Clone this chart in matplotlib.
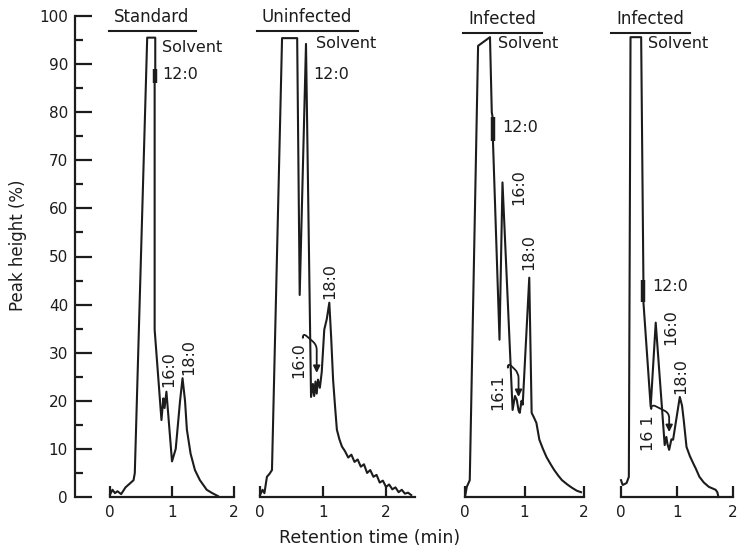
import matplotlib
matplotlib.use("Agg")
import matplotlib.pyplot as plt
from matplotlib.ticker import MultipleLocator
from matplotlib.lines import Line2D

# DATA  (retention time in min, peak height in %)
std_t = [0.0, 0.04, 0.08, 0.12, 0.18, 0.25, 0.32, 0.38, 0.40, 0.60, 0.73, 0.73, 0.72, 0.72,
         0.83, 0.86, 0.88, 0.91, 1.0, 1.06, 1.13, 1.17, 1.21, 1.24, 1.30, 1.37, 1.45, 1.56,
         1.65, 1.74]
std_h = [0.5, 1.5, 0.8, 1.2, 0.6, 2.0, 2.8, 3.5, 5.0, 95.5, 95.5, 88.0, 86.0, 34.8,
         16.0, 20.5, 18.5, 21.9, 7.4, 10.0, 20.0, 24.7, 20.0, 14.0, 9.0, 5.6, 3.5, 1.5,
         0.8, 0.2]

uninf_t = [0.0, 0.04, 0.07, 0.11, 0.15, 0.19, 0.35, 0.59, 0.63, 0.73, 0.81, 0.84, 0.86, 0.88,
           0.90, 0.92, 0.95, 0.98, 1.02, 1.06, 1.10, 1.13, 1.16, 1.19, 1.22, 1.26, 1.30,
           1.35, 1.40, 1.45, 1.50, 1.55, 1.60, 1.65, 1.70, 1.75, 1.80, 1.85, 1.90, 1.95, 2.00,
           2.05, 2.10, 2.15, 2.20, 2.25, 2.30, 2.35, 2.40]
uninf_h = [0.4, 1.5, 0.8, 4.2, 4.8, 5.6, 95.4, 95.4, 42.0, 94.2, 20.8, 23.5, 21.0, 24.0,
           21.5, 24.4, 22.7, 26.0, 34.8, 37.0, 40.4, 33.0, 24.4, 19.0, 14.0, 12.0, 10.5,
           9.5, 8.2, 8.8, 7.3, 7.8, 6.3, 6.8, 5.0, 5.6, 4.2, 4.6, 3.0, 3.4, 2.1,
           2.6, 1.6, 2.0, 1.0, 1.5, 0.7, 0.9, 0.4]

inf1_t = [0.0, 0.03, 0.08, 0.22, 0.42, 0.45, 0.47, 0.47, 0.58, 0.63, 0.80, 0.84, 0.87, 0.90,
          0.92, 0.95, 0.97, 1.08, 1.12, 1.16, 1.20, 1.25, 1.31, 1.37, 1.44, 1.50, 1.57,
          1.63, 1.72, 1.80, 1.88, 1.95]
inf1_h = [0.0, 2.1, 3.5, 93.8, 95.6, 80.0, 78.5, 74.0, 32.7, 65.4, 18.1, 21.0, 20.2, 18.0,
          17.5, 20.0, 19.2, 45.6, 17.5, 16.5, 15.4, 11.9, 10.0, 8.3, 6.8, 5.6, 4.4,
          3.5, 2.6, 1.9, 1.3, 1.0]

inf2_t = [0.0, 0.03, 0.10, 0.14, 0.17, 0.36, 0.40, 0.40, 0.53, 0.62, 0.78, 0.81, 0.83, 0.86,
          0.90, 0.93, 1.05, 1.09, 1.12, 1.17, 1.23, 1.29, 1.34, 1.40, 1.48, 1.57, 1.63,
          1.69, 1.72, 1.74]
inf2_h = [3.5, 2.5, 2.9, 4.2, 95.6, 95.6, 45.2, 40.6, 18.75, 36.25, 10.8, 12.5, 11.0, 9.8,
          12.0, 11.9, 20.8, 19.0, 16.0, 10.4, 8.5, 7.0, 5.8, 4.2, 3.0, 2.1, 1.8,
          1.5, 1.0, 0.0]

# 12:0 marks (thick bits on the solvent tail)
blip_t = [0.73, None, 0.47, 0.40]
blip_lo = [86.0, None, 74.0, 40.6]
blip_hi = [89.0, None, 79.0, 45.2]

titles = ["Standard", "Uninfected", "Infected", "Infected"]
y_ticks = list(range(0, 101, 10))
x_ticks = [0, 1, 2]

INK = "#1c1c1c"
W, H = 740, 554
Y0, Y100 = 497, 16  # pixel rows of 0 % and 100 %

fig = plt.figure(figsize=(W / 100, H / 100), dpi=100)
fig.patch.set_facecolor("white")

bot = (H - Y0) / H
hgt = (Y0 - Y100) / H


def px_axes(left, right):
    return fig.add_axes([left / W, bot, (right - left) / W, hgt])


# shared y axis
ay = fig.add_axes([75 / W, bot, 0.5 / W, hgt])
ay.set_ylim(0, 100)
ay.set_xticks([])
for s in ["top", "right", "bottom"]:
    ay.spines[s].set_visible(False)
ay.spines["left"].set_linewidth(1.6)
ay.spines["left"].set_color(INK)
ay.set_yticks(y_ticks)
ay.yaxis.set_minor_locator(MultipleLocator(5))
ay.tick_params(axis="y", which="major", direction="in", length=12, width=1.6,
               labelsize=11, pad=5, colors=INK)
ay.tick_params(axis="y", which="minor", direction="in", length=5.5, width=1.6, colors=INK)
ay.patch.set_visible(False)

# panel layout (pixel extents, x-limit) and label placements
panels = [
    dict(px=(110, 234), xmax=2.0, t=std_t, h=std_h, title_y=99.8,
         labels=[("Solvent", 0.84, 93.5, 0), ("12:0", 0.84, 87.9, 0),
                 ("16:0", 0.95, 26.7, 90), ("18:0", 1.27, 29.2, 90)],
         arrow=None),
    dict(px=(260, 415), xmax=2.46, t=uninf_t, h=uninf_h, title_y=99.8,
         labels=[("Solvent", 0.89, 94.2, 0), ("12:0", 0.84, 87.9, 0),
                 ("18:0", 1.11, 45.0, 90), ("16:0", 0.62, 28.5, 90)],
         arrow=((0.68, 33.3), (0.90, 25.8), 28)),
    dict(px=(465, 584), xmax=2.0, t=inf1_t, h=inf1_h, title_y=99.4,
         labels=[("Solvent", 0.55, 94.2, 0), ("12:0", 0.62, 76.9, 0),
                 ("16:0", 0.90, 64.4, 90), ("18:0", 1.07, 51.0, 90),
                 ("16:1", 0.55, 21.9, 90)],
         arrow=((0.72, 27.1), (0.90, 20.8), 24)),
    dict(px=(621, 733), xmax=2.0, t=inf2_t, h=inf2_h, title_y=99.4,
         labels=[("Solvent", 0.49, 94.2, 0), ("12:0", 0.55, 43.75, 0),
                 ("16:0", 0.89, 35.4, 90), ("18:0", 1.07, 25.2, 90),
                 ("16 1", 0.49, 13.3, 90)],
         arrow=((0.54, 18.5), (0.86, 13.5), 19)),
]

title_texts = []
for i, p in enumerate(panels):
    ax = px_axes(*p["px"])
    ax.set_xlim(0, p["xmax"])
    ax.set_ylim(0, 100)
    ax.patch.set_visible(False)
    for s in ["top", "right", "left"]:
        ax.spines[s].set_visible(False)
    ax.spines["bottom"].set_bounds(0, p["xmax"] if i == 1 else 2)
    ax.spines["bottom"].set_linewidth(1.6)
    ax.spines["bottom"].set_color(INK)
    ax.set_yticks([])
    ax.set_xticks(x_ticks)
    ax.tick_params(axis="x", direction="in", length=8, width=1.6, labelsize=11,
                   pad=6, colors=INK)

    ax.plot(p["t"], p["h"], color=INK, lw=1.5, clip_on=False)
    if blip_t[i] is not None:
        ax.plot([blip_t[i], blip_t[i]], [blip_lo[i], blip_hi[i]], color=INK,
                lw=3.2, clip_on=False, solid_capstyle="butt")

    for txt, x, y, rot in p["labels"]:
        if rot == 0:
            ax.text(x, y, txt, ha="left", va="center", fontsize=11.5, color=INK)
        else:
            ax.text(x, y, txt, ha="center", va="center", rotation=90,
                    fontsize=11.5, color=INK)

    if p["arrow"] is not None:
        (xa, ya), (xb, yb), arm = p["arrow"]
        ax.annotate("", xy=(xb, yb), xytext=(xa, ya),
                    arrowprops=dict(arrowstyle="-|>", color=INK, lw=1.3,
                                    mutation_scale=10, shrinkA=0, shrinkB=0,
                                    connectionstyle="arc,angleA=90,angleB=90,"
                                                    f"armA=4,armB={arm},rad=5"))

    t = ax.text(0.5, 0, titles[i], fontsize=12, color=INK, ha="center",
                va="center", transform=ax.transAxes)
    title_texts.append((ax, t, p["title_y"]))

# titles centred above each panel, underlined
title_cx = [152, 307, 502, 650]
for (ax, t, ty), cx in zip(title_texts, title_cx):
    t.set_transform(fig.transFigure)
    t.set_position((cx / W, (H - (Y0 - ty * 4.81)) / H))

fig.canvas.draw()
r = fig.canvas.get_renderer()
for ax, t, ty in title_texts:
    bb = t.get_window_extent(r)
    yline = bb.y0 - 5
    fig.add_artist(Line2D([(bb.x0 - 5) / W, (bb.x1 + 6) / W], [yline / H, yline / H],
                          color=INK, lw=1.5))

fig.text(18 / W, (H - 245) / H, "Peak height (%)", rotation=90, ha="center",
         va="center", fontsize=12, color=INK)
fig.text(370 / W, (H - 538) / H, "Retention time (min)", ha="center", va="center",
         fontsize=12.5, color=INK)

fig.savefig("out.png", dpi=100, facecolor="white")
